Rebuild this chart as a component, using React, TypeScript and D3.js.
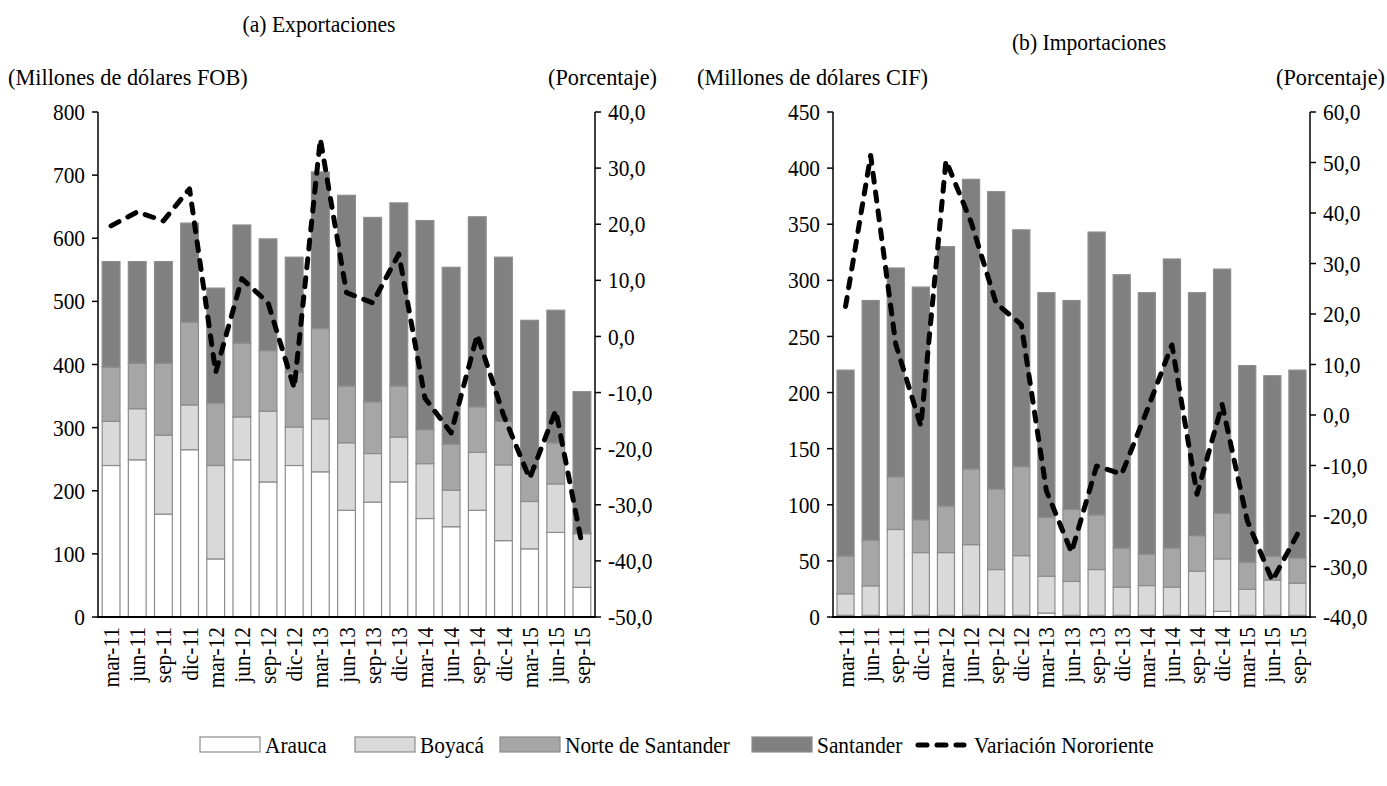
import React from 'react';
import * as d3 from 'd3';

const categories = ['mar-11','jun-11','sep-11','dic-11','mar-12','jun-12','sep-12','dic-12','mar-13','jun-13','sep-13','dic-13','mar-14','jun-14','sep-14','dic-14','mar-15','jun-15','sep-15'];
const seriesNames = ['Arauca','Boyacá','Norte de Santander','Santander'];
const seriesColors = ['#ffffff','#d9d9d9','#a6a6a6','#808080'];

// Exportaciones (millones de dólares FOB)
const expArauca = [240,249,163,265,92,249,214,240,230,169,182,214,156,143,169,121,108,134,47];
const expBoyaca = [70,81,125,71,148,68,112,61,84,107,77,71,87,58,92,120,75,77,85];
const expNorte = [86,72,114,131,99,117,96,87,143,90,82,81,54,73,72,69,52,65,2];
const expSantander = [167,161,161,157,182,187,177,182,248,302,292,290,331,280,301,260,235,210,223];
const expVariacion = [19.7,22.2,20.6,26.3,-6.4,10.3,6.0,-9.2,35.2,7.8,6.0,14.7,-11.0,-17.2,0.3,-14.0,-25.3,-13.2,-37.0];

// Importaciones (millones de dólares CIF)
const impArauca = [1.5,1.5,1.5,1.5,1.5,1.5,1.5,1.5,3.5,1.5,1.5,1.5,1.5,1.5,1.5,5,1.5,1.5,1.5];
const impBoyaca = [19.2,26.3,76.5,55.9,55.9,63,40.8,53.2,32.9,30.2,40.8,25.1,26.5,25.1,39.3,46.8,23.1,31.5,28.7];
const impNorte = [33.7,40.8,47,29.3,41.6,67.5,71.7,79.3,52.4,64.3,48.7,34.9,28,34.9,31.7,40.5,24.2,21,22.5];
const impSantander = [165.6,213.4,186,207.3,231,258,265,211,200.2,186,252,243.5,233,257.5,216.5,217.7,175.2,161,167.3];
const impVariacion = [21.5,51.4,14.0,-2.2,50.4,38.2,22.1,17.9,-15.0,-27.2,-10.1,-11.7,0.8,13.9,-15.7,2.1,-20.9,-32.8,-23.6];

const expLeftTicks = [0,100,200,300,400,500,600,700,800];
const expRightTicks = [-50,-40,-30,-20,-10,0,10,20,30,40];
const impLeftTicks = [0,50,100,150,200,250,300,350,400,450];
const impRightTicks = [-40,-30,-20,-10,0,10,20,30,40,50,60];

const FONT = "'Liberation Serif', 'Times New Roman', serif";
const fmtPct = (v: number) => v.toFixed(1).replace('.', ',');

type TProps = { x: number; y: number; anchor?: 'start' | 'middle' | 'end'; size?: number; sx?: number; rot?: number; children: React.ReactNode };
function T({ x, y, anchor = 'start', size = 23, sx = 0.93, rot = 0, children }: TProps) {
  return (
    <g transform={`translate(${x},${y}) rotate(${rot}) scale(${sx},1)`}>
      <text x={0} y={0} dy="0.35em" textAnchor={anchor} fontSize={size} fontFamily={FONT} fill="#000">{children}</text>
    </g>
  );
}

type PanelProps = {
  x0: number; x1: number; y0: number; y1: number;
  series: number[][]; variacion: number[];
  leftMax: number; leftTicks: number[];
  rightDomain: [number, number]; rightTicks: number[];
};

function Panel(p: PanelProps) {
  const x = d3.scaleBand<string>().domain(categories).range([p.x0, p.x1]).paddingInner(0.32).paddingOuter(0.16);
  const yL = d3.scaleLinear().domain([0, p.leftMax]).range([p.y1, p.y0]);
  const yR = d3.scaleLinear().domain(p.rightDomain).range([p.y1, p.y0]);
  const table = categories.map((c, i) => {
    const o: any = { cat: c };
    seriesNames.forEach((s, k) => { o[s] = p.series[k][i]; });
    return o;
  });
  const stacked = d3.stack<any>().keys(seriesNames)(table);
  const line = d3.line<number>()
    .x((_, i) => (x(categories[i]) as number) + x.bandwidth() / 2)
    .y(v => yR(v));
  return (
    <g>
      {stacked.map((layer, k) => (
        <g key={k}>
          {layer.map((d, i) => (
            <rect key={i} x={x(categories[i])} width={x.bandwidth()}
              y={yL(d[1])} height={Math.max(0, yL(d[0]) - yL(d[1]))}
              fill={seriesColors[k]} stroke="#8c8c8c" strokeWidth={1.2} />
          ))}
        </g>
      ))}
      <path d={line(p.variacion) || ''} fill="none" stroke="#000" strokeWidth={5}
        strokeDasharray="9,10" strokeLinecap="round" strokeLinejoin="round" />
      {/* left axis */}
      <line x1={p.x0} x2={p.x0} y1={p.y0} y2={p.y1} stroke="#000" strokeWidth={1.5} />
      {p.leftTicks.map(t => (
        <g key={t}>
          <line x1={p.x0 - 6} x2={p.x0} y1={yL(t)} y2={yL(t)} stroke="#000" strokeWidth={1.5} />
          <T x={p.x0 - 13} y={yL(t)} anchor="end">{t}</T>
        </g>
      ))}
      {/* right axis */}
      <line x1={p.x1} x2={p.x1} y1={p.y0} y2={p.y1} stroke="#000" strokeWidth={1.5} />
      {p.rightTicks.map(t => (
        <g key={t}>
          <line x1={p.x1} x2={p.x1 + 6} y1={yR(t)} y2={yR(t)} stroke="#000" strokeWidth={1.5} />
          <T x={p.x1 + 13} y={yR(t)} anchor="start">{fmtPct(t)}</T>
        </g>
      ))}
      {/* baseline */}
      <line x1={p.x0 - 1} x2={p.x1 + 1} y1={p.y1} y2={p.y1} stroke="#000" strokeWidth={2} />
      {categories.map(c => {
        const cx = (x(c) as number) + x.bandwidth() / 2;
        return <T key={c} x={cx} y={p.y1 + 10} rot={-90} anchor="end">{c}</T>;
      })}
    </g>
  );
}

export default function App() {
  const top = 112, bottom = 617;
  const legendItems = [
    { x: 200, label: 'Arauca', k: 0 },
    { x: 355, label: 'Boyacá', k: 1 },
    { x: 500, label: 'Norte de Santander', k: 2 },
    { x: 752, label: 'Santander', k: 3 },
  ];
  return (
    <svg width={1387} height={786} style={{ display: 'block', position: 'absolute', left: 0, top: 0, background: '#fff' }}>
      <rect width={1387} height={786} fill="#fff" />
      <T x={319} y={24} anchor="middle" size={23} sx={0.94}>(a) Exportaciones</T>
      <T x={8} y={77} size={24} sx={0.93}>(Millones de dólares FOB)</T>
      <T x={657} y={77} anchor="end" size={24} sx={0.93}>(Porcentaje)</T>
      <Panel x0={98} x1={595} y0={top} y1={bottom}
        series={[expArauca, expBoyaca, expNorte, expSantander]} variacion={expVariacion}
        leftMax={800} leftTicks={expLeftTicks} rightDomain={[-50, 40]} rightTicks={expRightTicks} />

      <T x={1089} y={42} anchor="middle" size={23} sx={0.94}>(b) Importaciones</T>
      <T x={697} y={77} size={24} sx={0.93}>(Millones de dólares CIF)</T>
      <T x={1385} y={77} anchor="end" size={24} sx={0.93}>(Porcentaje)</T>
      <Panel x0={833} x1={1310} y0={top} y1={bottom}
        series={[impArauca, impBoyaca, impNorte, impSantander]} variacion={impVariacion}
        leftMax={450} leftTicks={impLeftTicks} rightDomain={[-40, 60]} rightTicks={impRightTicks} />

      {legendItems.map(it => (
        <g key={it.label}>
          <rect x={it.x} y={737} width={60} height={15} fill={seriesColors[it.k]} stroke="#8c8c8c" strokeWidth={1.2} />
          <T x={it.x + 65} y={745}>{it.label}</T>
        </g>
      ))}
      <line x1={918} x2={964} y1={745} y2={745} stroke="#000" strokeWidth={5} strokeDasharray="9,10" strokeLinecap="round" />
      <T x={974} y={745}>Variación Nororiente</T>
    </svg>
  );
}
